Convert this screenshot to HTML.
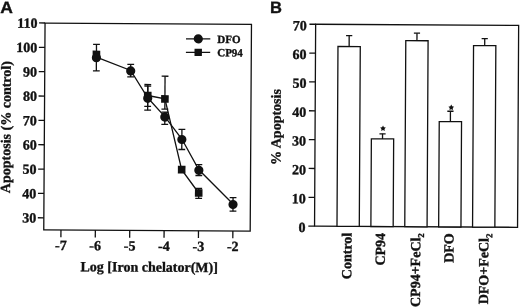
<!DOCTYPE html>
<html><head><meta charset="utf-8">
<style>
html,body{margin:0;padding:0;background:#fff;}
body{width:520px;height:307px;overflow:hidden;}
svg{display:block;filter:grayscale(1) blur(0.3px);}
line,rect,polyline{stroke:#111;stroke-width:1.3;}
.fill{fill:#111;stroke:none;}
circle,polygon{stroke:none;}
text{fill:#111;stroke:#111;stroke-width:0.35px;}
.t{font-family:"Liberation Serif",serif;font-weight:bold;font-size:14px;}
.leg{font-family:"Liberation Serif",serif;font-weight:bold;font-size:11px;}
.lab{font-family:"Liberation Sans",sans-serif;font-weight:bold;font-size:16.5px;}
.st{font-family:"Liberation Serif",serif;font-weight:bold;font-size:10px;}
.sub{font-size:9px;}
</style></head>
<body><svg width="520" height="307" viewBox="0 0 520 307">
<g transform="rotate(0.357 147.6 127)">
<text x="0" y="12.9" class="lab" transform="translate(-0.5,1.0) scale(1.06,1)">A</text>
<rect x="44.4" y="23.7" width="206.43" height="206.75" fill="none"/>
<line x1="38.4" y1="218.45" x2="44.4" y2="218.45"/>
<text x="36.8" y="223.35" class="t" text-anchor="end">30</text>
<line x1="38.4" y1="194.1" x2="44.4" y2="194.1"/>
<text x="36.8" y="199" class="t" text-anchor="end">40</text>
<line x1="38.4" y1="169.75" x2="44.4" y2="169.75"/>
<text x="36.8" y="174.65" class="t" text-anchor="end">50</text>
<line x1="38.4" y1="145.4" x2="44.4" y2="145.4"/>
<text x="36.8" y="150.3" class="t" text-anchor="end">60</text>
<line x1="38.4" y1="121.05" x2="44.4" y2="121.05"/>
<text x="36.8" y="125.95" class="t" text-anchor="end">70</text>
<line x1="38.4" y1="96.7" x2="44.4" y2="96.7"/>
<text x="36.8" y="101.6" class="t" text-anchor="end">80</text>
<line x1="38.4" y1="72.35" x2="44.4" y2="72.35"/>
<text x="36.8" y="77.25" class="t" text-anchor="end">90</text>
<line x1="38.4" y1="48" x2="44.4" y2="48"/>
<text x="36.8" y="52.9" class="t" text-anchor="end">100</text>
<line x1="38.4" y1="23.65" x2="44.4" y2="23.65"/>
<text x="36.8" y="28.55" class="t" text-anchor="end">110</text>
<line x1="61.6" y1="230.45" x2="61.6" y2="237.75"/>
<text x="61.6" y="250.6" class="t" text-anchor="middle">-7</text>
<line x1="95.98" y1="230.45" x2="95.98" y2="237.75"/>
<text x="95.98" y="250.6" class="t" text-anchor="middle">-6</text>
<line x1="130.36" y1="230.45" x2="130.36" y2="237.75"/>
<text x="130.36" y="250.6" class="t" text-anchor="middle">-5</text>
<line x1="164.74" y1="230.45" x2="164.74" y2="237.75"/>
<text x="164.74" y="250.6" class="t" text-anchor="middle">-4</text>
<line x1="199.12" y1="230.45" x2="199.12" y2="237.75"/>
<text x="199.12" y="250.6" class="t" text-anchor="middle">-3</text>
<line x1="233.5" y1="230.45" x2="233.5" y2="237.75"/>
<text x="233.5" y="250.6" class="t" text-anchor="middle">-2</text>
<text x="150.1" y="271.6" class="t" text-anchor="middle">Log [Iron chelator(M)]</text>
<text transform="translate(10.5,128.0) rotate(-90)" class="t" text-anchor="middle">Apoptosis (% control)</text>
<line x1="95.98" y1="44.63" x2="95.98" y2="71.23"/>
<line x1="92.58" y1="44.63" x2="99.38" y2="44.63"/>
<line x1="92.58" y1="71.23" x2="99.38" y2="71.23"/>
<line x1="130.36" y1="64.41" x2="130.36" y2="77.01"/>
<line x1="126.96" y1="64.41" x2="133.76" y2="64.41"/>
<line x1="126.96" y1="77.01" x2="133.76" y2="77.01"/>
<line x1="147.55" y1="86.01" x2="147.55" y2="110.2"/>
<line x1="144.15" y1="86.01" x2="150.95" y2="86.01"/>
<line x1="144.15" y1="110.2" x2="150.95" y2="110.2"/>
<line x1="164.74" y1="112.1" x2="164.74" y2="124.3"/>
<line x1="161.34" y1="112.1" x2="168.14" y2="112.1"/>
<line x1="161.34" y1="124.3" x2="168.14" y2="124.3"/>
<line x1="181.93" y1="129.09" x2="181.93" y2="149.29"/>
<line x1="178.53" y1="129.09" x2="185.33" y2="129.09"/>
<line x1="178.53" y1="149.29" x2="185.33" y2="149.29"/>
<line x1="199.12" y1="164.28" x2="199.12" y2="175.18"/>
<line x1="195.72" y1="164.28" x2="202.52" y2="164.28"/>
<line x1="195.72" y1="175.18" x2="202.52" y2="175.18"/>
<line x1="233.5" y1="197.07" x2="233.5" y2="210.67"/>
<line x1="230.1" y1="197.07" x2="236.9" y2="197.07"/>
<line x1="230.1" y1="210.67" x2="236.9" y2="210.67"/>
<line x1="95.98" y1="52.33" x2="95.98" y2="57.33"/>
<line x1="92.58" y1="52.33" x2="99.38" y2="52.33"/>
<line x1="92.58" y1="57.33" x2="99.38" y2="57.33"/>
<line x1="147.55" y1="84.51" x2="147.55" y2="106.3"/>
<line x1="144.15" y1="84.51" x2="150.95" y2="84.51"/>
<line x1="144.15" y1="106.3" x2="150.95" y2="106.3"/>
<line x1="164.74" y1="76.1" x2="164.74" y2="109"/>
<line x1="161.34" y1="76.1" x2="168.14" y2="76.1"/>
<line x1="161.34" y1="109" x2="168.14" y2="109"/>
<line x1="181.93" y1="166.79" x2="181.93" y2="171.79"/>
<line x1="178.53" y1="166.79" x2="185.33" y2="166.79"/>
<line x1="178.53" y1="171.79" x2="185.33" y2="171.79"/>
<line x1="199.12" y1="188.18" x2="199.12" y2="197.98"/>
<line x1="195.72" y1="188.18" x2="202.52" y2="188.18"/>
<line x1="195.72" y1="197.98" x2="202.52" y2="197.98"/>
<polyline fill="none" points="95.98,57.53 130.36,70.51 147.55,97.8 164.74,116.5 181.93,138.79 199.12,169.48 233.5,203.47"/>
<polyline fill="none" points="147.55,95.5 164.74,98.8 181.93,169.39 199.12,192.68"/>
<rect x="92.18" y="50.93" width="7.6" height="7.6" class="fill"/>
<rect x="143.75" y="91.7" width="7.6" height="7.6" class="fill"/>
<rect x="160.94" y="95" width="7.6" height="7.6" class="fill"/>
<rect x="178.13" y="165.59" width="7.6" height="7.6" class="fill"/>
<rect x="195.32" y="188.88" width="7.6" height="7.6" class="fill"/>
<circle cx="95.98" cy="58.03" r="4.6" class="fill"/>
<circle cx="130.36" cy="71.01" r="4.6" class="fill"/>
<circle cx="147.55" cy="98.3" r="4.6" class="fill"/>
<circle cx="164.74" cy="117" r="4.6" class="fill"/>
<circle cx="181.93" cy="139.29" r="4.6" class="fill"/>
<circle cx="199.12" cy="169.98" r="4.6" class="fill"/>
<circle cx="233.5" cy="203.97" r="4.6" class="fill"/>
<line x1="185.45" y1="38.56" x2="209.75" y2="38.56"/>
<circle cx="197.75" cy="38.56" r="4.6" class="fill"/>
<text x="216.75" y="42.56" class="leg">DFO</text>
<line x1="185.45" y1="52.06" x2="209.75" y2="52.06"/>
<rect x="194.05" y="48.36" width="7.4" height="7.4" class="fill"/>
<text x="216.75" y="55.86" class="leg">CP94</text>
</g>
<g transform="rotate(0.313 416.6 125)">
<text x="269.3" y="13.9" class="lab">B</text>
<rect x="315.1" y="24.82" width="203" height="201.93" fill="none"/>
<line x1="308.9" y1="226.75" x2="315.1" y2="226.75"/>
<text x="306.2" y="232.75" class="t" text-anchor="end">0</text>
<line x1="308.9" y1="197.9" x2="315.1" y2="197.9"/>
<text x="306.2" y="203.9" class="t" text-anchor="end">10</text>
<line x1="308.9" y1="169.06" x2="315.1" y2="169.06"/>
<text x="306.2" y="175.06" class="t" text-anchor="end">20</text>
<line x1="308.9" y1="140.21" x2="315.1" y2="140.21"/>
<text x="306.2" y="146.21" class="t" text-anchor="end">30</text>
<line x1="308.9" y1="111.36" x2="315.1" y2="111.36"/>
<text x="306.2" y="117.36" class="t" text-anchor="end">40</text>
<line x1="308.9" y1="82.51" x2="315.1" y2="82.51"/>
<text x="306.2" y="88.51" class="t" text-anchor="end">50</text>
<line x1="308.9" y1="53.67" x2="315.1" y2="53.67"/>
<text x="306.2" y="59.67" class="t" text-anchor="end">60</text>
<line x1="308.9" y1="24.82" x2="315.1" y2="24.82"/>
<text x="306.2" y="30.82" class="t" text-anchor="end">70</text>
<text transform="translate(280.7,127.8) rotate(-90)" class="t" text-anchor="middle">% Apoptosis</text>
<rect x="337.55" y="46.92" width="22.3" height="179.83" fill="#fff"/>
<line x1="348.7" y1="36.02" x2="348.7" y2="46.92"/>
<line x1="345.6" y1="36.02" x2="351.8" y2="36.02"/>
<text transform="translate(352.1,233.1) rotate(-90)" class="t" text-anchor="end">Control</text>
<rect x="371.44" y="139.08" width="22.3" height="87.67" fill="#fff"/>
<line x1="382.59" y1="134.03" x2="382.59" y2="139.08"/>
<line x1="379.49" y1="134.03" x2="385.69" y2="134.03"/>
<polygon class="fill" points="383.02,125.68 383.96,127.39 385.87,127.76 384.54,129.18 384.78,131.11 383.02,130.28 381.26,131.11 381.5,129.18 380.17,127.76 382.08,127.39"/>
<text transform="translate(385.59,233.1) rotate(-90)" class="t" text-anchor="end">CP94</text>
<rect x="405.33" y="40.7" width="22.3" height="186.05" fill="#fff"/>
<line x1="416.48" y1="33.2" x2="416.48" y2="40.7"/>
<line x1="413.38" y1="33.2" x2="419.58" y2="33.2"/>
<text transform="translate(420.88,233.1) rotate(-90)" class="t" text-anchor="end">CP94+FeCl<tspan class="sub" dy="3.8">2</tspan></text>
<rect x="439.22" y="121.41" width="22.3" height="105.34" fill="#fff"/>
<line x1="450.37" y1="111.06" x2="450.37" y2="121.41"/>
<line x1="447.27" y1="111.06" x2="453.47" y2="111.06"/>
<polygon class="fill" points="451.15,104.41 452.09,106.12 454.01,106.48 452.68,107.91 452.92,109.84 451.15,109.01 449.39,109.84 449.63,107.91 448.3,106.48 450.21,106.12"/>
<text transform="translate(454.17,233.1) rotate(-90)" class="t" text-anchor="end">DFO</text>
<rect x="473.11" y="45.28" width="22.3" height="181.47" fill="#fff"/>
<line x1="484.26" y1="38.28" x2="484.26" y2="45.28"/>
<line x1="481.16" y1="38.28" x2="487.36" y2="38.28"/>
<text transform="translate(489.06,233.1) rotate(-90)" class="t" text-anchor="end">DFO+FeCl<tspan class="sub" dy="3.8">2</tspan></text>
</g>
</svg></body></html>
